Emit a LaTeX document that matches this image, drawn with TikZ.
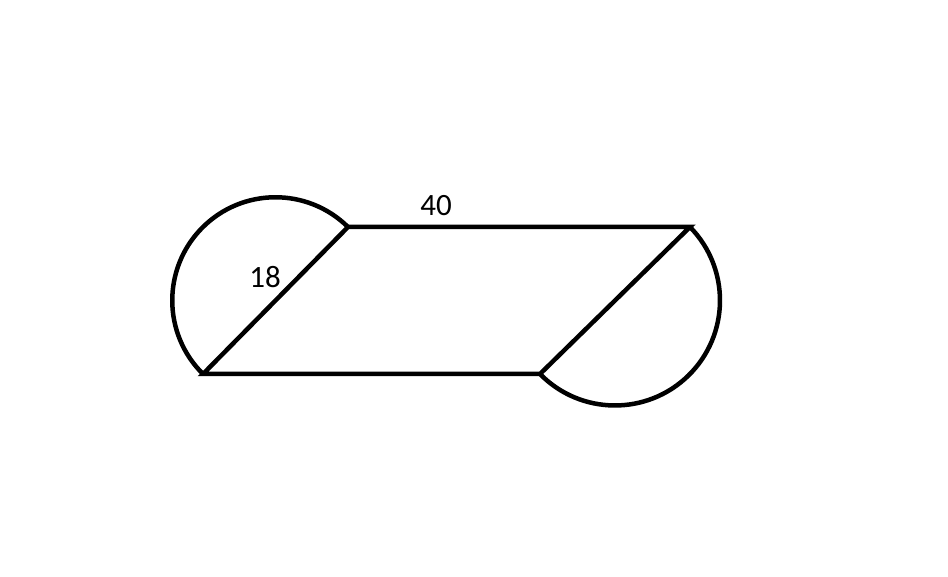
\documentclass[tikz,border=0pt]{standalone}
\usepackage{fontspec}
\setmainfont{Carlito}
\begin{document}
\begin{tikzpicture}[x=1pt,y=1pt,
  edge/.style={line width=4.5pt,black},
  lbl/.style={font=\fontsize{31}{36}\selectfont,inner sep=0pt}]
\useasboundingbox (0,0) rectangle (948,576);
\coordinate (A) at (203,202);
\coordinate (B) at (540,202);
\coordinate (C) at (690,349);
\coordinate (D) at (348,349);
\draw[edge,line join=miter] (A) -- (B) -- (C) -- (D) -- cycle;
\draw[edge] (A) arc[start angle=225.4,end angle=45.4,radius=103.24];
\draw[edge] (C) arc[start angle=44.4,end angle=-135.6,radius=105.01];
\node[lbl] (l40) at (436,370) {40};
\node[lbl] (l18) at (265,299) {18};
\end{tikzpicture}
\end{document}
